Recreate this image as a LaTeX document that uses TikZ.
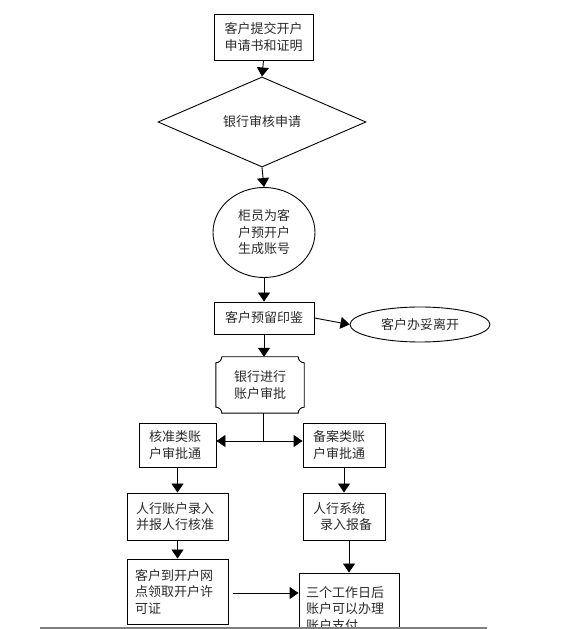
\documentclass[tikz,border=0pt]{standalone}
\usepackage{fontspec}
\setmainfont{Noto Sans CJK SC}
\usetikzlibrary{shapes.geometric,arrows.meta,calc}
\definecolor{txt}{HTML}{2A2A2A}
\begin{document}
\begin{tikzpicture}[x=1pt,y=1pt,
  every node/.style={font=\fontsize{13}{16.5}\selectfont, text=txt, inner sep=0pt},
  box/.style={draw, rectangle, line width=0.9pt},
  ln/.style={line width=0.9pt},
  arr/.style={line width=0.9pt, -{Triangle[width=12pt,length=9pt]}},
  arrb/.style={line width=0.9pt, {Triangle[width=12pt,length=9pt]}-{Triangle[width=12pt,length=9pt]}}
]
\useasboundingbox (0,0) rectangle (564,629);
\begin{scope}
\clip (0,0) rectangle (564,629);
\node[box, minimum width=99pt, minimum height=46pt, align=center] (n1) at (263.5,592) {客户提交开户\\申请书和证明};
\node[draw, diamond, line width=0.9pt, minimum width=208pt, minimum height=82pt] (d) at (262,507) {银行审核申请};
\node[draw, ellipse, line width=0.9pt, minimum width=102pt, minimum height=90pt, align=center] (c) at (264,396.5) {柜员为客\\户预开户\\生成账号};
\node[box, minimum width=100pt, minimum height=32pt] (n2) at (264,311) {客户预留印鉴};
\node[draw, ellipse, line width=0.9pt, minimum width=140pt, minimum height=35pt] (e2) at (420,304.5) {客户办妥离开};
\node[minimum width=88pt, minimum height=56pt, align=center] (b) at (260,244) {银行进行\\账户审批};
\draw[ln] let \p1=(b.south west), \p2=(b.north east) in
  (\x1+6,\y2) -- (\x2-6,\y2) arc[start angle=180,end angle=270,radius=6pt]
  -- (\x2,\y1+6) arc[start angle=90,end angle=180,radius=6pt]
  -- (\x1+6,\y1) arc[start angle=0,end angle=90,radius=6pt]
  -- (\x1,\y2-6) arc[start angle=270,end angle=360,radius=6pt] -- cycle;
\node[box, minimum height=44pt, inner xsep=10pt, text width=57pt, align=left] (a1) at (177.5,184) {核准类账\\户审批通};
\node[box, minimum height=44pt, inner xsep=10pt, text width=62pt, align=left] (a2) at (344,184) {备案类账\\户审批通};
\node[box, minimum height=47pt, inner xsep=9pt, text width=83pt, align=left] (b1) at (177.5,112.5) {人行账户录入\\并报人行核准};
\node[box, minimum height=47pt, inner xsep=10pt, text width=62pt, align=left] (b2) at (344,112.5) {人行系统\\\hspace*{7pt}录入报备};
\node[box, minimum height=65pt, inner xsep=8pt, text width=85pt, align=left] (c1) at (177.5,37.5) {客户到开户网\\点领取开户许\\可证};
\node[box, minimum height=72pt, inner xsep=7pt, text width=86pt, align=left] (c2) at (349,20) {三个工作日后\\账户可以办理\\账户支付};
\coordinate (j) at (263,188);
\draw[arr] (n1.south) -- (d.north);
\draw[arr] (d.south) -- (c.north);
\draw[arr] (c.south) -- (n2.north);
\draw[arr] (n2.east) -- (e2.west);
\draw[arr] (n2.south) -- (n2.south |- b.north);
\draw[ln] (j |- b.south) -- (j);
\draw[arrb] (a1.east |- j) -- (a2.west |- j);
\draw[arr] (a1.south) -- (b1.north);
\draw[arr] (b1.south) -- (c1.north);
\draw[arr] (a2.south) -- (b2.north);
\draw[arr] (c2.north |- b2.south) -- (c2.north);
\draw[arr] ([xshift=5pt]c1.east |- 0,36) -- (c2.west |- 0,36);
\draw[line width=1.2pt, gray] (40,1) -- (487,1);
\end{scope}
\end{tikzpicture}
\end{document}
